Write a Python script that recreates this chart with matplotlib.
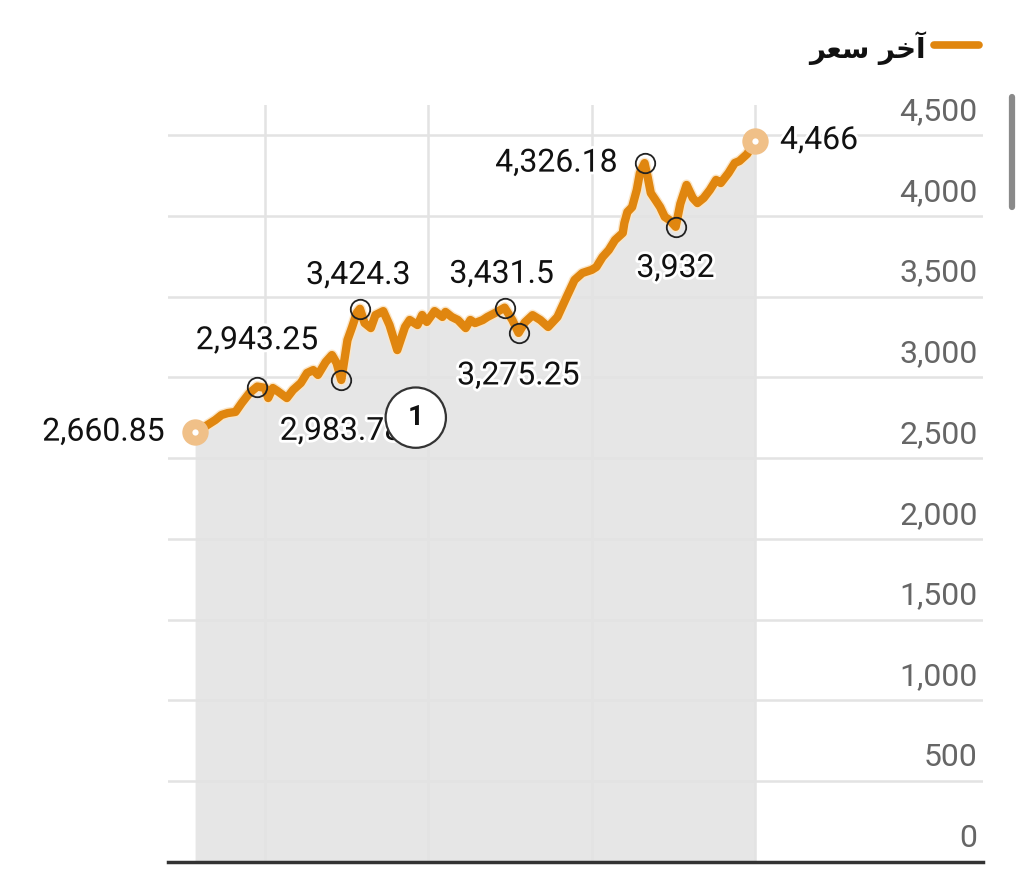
import numpy as np
import matplotlib.pyplot as plt
import matplotlib.patheffects as pe
from matplotlib.lines import Line2D

# days since start of series and closing price
days = [0, 6, 13, 17, 21, 26, 30, 35, 40, 45, 47, 50, 53, 59, 63, 68, 72, 76, 79, 84,
        88, 91, 94, 96, 98, 101, 104, 106, 109, 113, 116, 121, 125, 130, 135, 138, 143,
        146, 149, 154, 159, 161, 165, 169, 174, 177, 180, 185, 188, 193, 199, 204, 208,
        212, 217, 222, 227, 233, 238, 244, 249, 255, 258, 262, 266, 270, 275, 276, 278,
        281, 284, 286, 289, 291, 293, 296, 299, 302, 305, 309, 312, 316, 320, 323, 327,
        331, 335, 338, 343, 347, 350, 355, 360]
price = [2660.85, 2693, 2736, 2767, 2779, 2786, 2841, 2903, 2943.25, 2935, 2872, 2934,
         2915, 2872, 2922, 2965, 3027, 3045, 3015, 3095, 3138, 3089, 2983.78, 3107, 3231,
         3312, 3400, 3424.3, 3336, 3305, 3386, 3410, 3324, 3169, 3312, 3355, 3324, 3386,
         3343, 3410, 3374, 3405, 3374, 3355, 3305, 3355, 3336, 3355, 3374, 3399, 3431.5,
         3355, 3275.25, 3340, 3385, 3355, 3312, 3374, 3479, 3603, 3646, 3665, 3683, 3745,
         3788, 3850, 3894, 3955, 4024, 4054, 4160, 4265, 4326.18, 4240, 4141, 4098, 4054,
         3993, 3974, 3932, 4074, 4191, 4110, 4079, 4110, 4160, 4222, 4203, 4265, 4327,
         4339, 4383, 4466]

# marked points (day, value, label)
mark_days = [40, 94, 106, 199, 208, 289, 309]
mark_vals = [2943.25, 2983.78, 3424.3, 3431.5, 3275.25, 4326.18, 3932]
mark_labels = ["2,943.25", "2,983.78", "3,424.3", "3,431.5", "3,275.25", "4,326.18", "3,932"]

yticks = [0, 500, 1000, 1500, 2000, 2500, 3000, 3500, 4000, 4500]
ytick_labels = ["0", "500", "1,000", "1,500", "2,000", "2,500", "3,000", "3,500", "4,000", "4,500"]
xgrid_days = [45, 150, 255, 360]

legend_label = "آخر سعر"

# minimal Arabic shaping (matplotlib has no bidi/shaping)
FORMS = {
    'آ': ('\uFE81', '\uFE82', None, None),
    'خ': ('\uFEA5', '\uFEA6', '\uFEA7', '\uFEA8'),
    'ر': ('\uFEAD', '\uFEAE', None, None),
    'س': ('\uFEB1', '\uFEB2', '\uFEB3', '\uFEB4'),
    'ع': ('\uFEC9', '\uFECA', '\uFECB', '\uFECC'),
}


def shape(txt):
    out = []
    for i, ch in enumerate(txt):
        if ch not in FORMS:
            out.append(ch)
            continue
        prev = txt[i - 1] if i > 0 else ''
        nxt = txt[i + 1] if i + 1 < len(txt) else ''
        join_prev = prev in FORMS and FORMS[prev][2] is not None
        join_next = nxt in FORMS and FORMS[ch][2] is not None
        iso, fin, ini, med = FORMS[ch]
        if join_prev and join_next:
            out.append(med)
        elif join_prev:
            out.append(fin)
        elif join_next:
            out.append(ini)
        else:
            out.append(iso)
    return ''.join(reversed(out))


plt.rcParams['font.family'] = ['Roboto', 'DejaVu Sans']

ORANGE = '#e0860f'
fig = plt.figure(figsize=(10.24, 8.73), dpi=100)
ax = fig.add_axes([168 / 1024, 11 / 873, 815 / 1024, 757 / 873])

ax.fill_between(days, price, 0, color='#e6e6e6', linewidth=0, zorder=1)
ax.plot(days, price, color=ORANGE, lw=6, solid_joinstyle='round', solid_capstyle='round', zorder=3,
        path_effects=[pe.Stroke(linewidth=8, foreground='#fbe6c8'), pe.Normal()])

# end points
ax.plot([days[0], days[-1]], [price[0], price[-1]], 'o', ms=19, color='#f0c088', mec='none', zorder=4)
ax.plot([days[0], days[-1]], [price[0], price[-1]], 'o', ms=4.5, color='white', mec='none', zorder=5)

halo = [pe.withStroke(linewidth=4, foreground='white')]
ax.annotate("2,660.85", (days[0], price[0]), xytext=(-21.6, 0), textcoords='offset points',
            ha='right', va='center', fontsize=23, color='#111', zorder=6, path_effects=halo)
ax.annotate("4,466", (days[-1], price[-1]), xytext=(18, 0), textcoords='offset points',
            ha='left', va='center', fontsize=23, color='#111', zorder=6, path_effects=halo)

ax.plot(mark_days, mark_vals, 'o', ms=14, mfc='none', mec='#222', mew=1.3, zorder=5)
offsets = [(0, 33), (0, -37), (-1, 24), (-2, 24), (0, -31), (-19, 0), (0, -30)]
for d, v, lab, off in zip(mark_days, mark_vals, mark_labels, offsets):
    ha = 'right' if off[1] == 0 else 'center'
    ax.annotate(lab, (d, v), xytext=off, textcoords='offset points', ha=ha, va='center',
                fontsize=23, color='#111', zorder=6, path_effects=halo)

# numbered badge
ax.text(0.304, 0.587, "1", transform=ax.transAxes, ha='center', va='center', fontsize=20,
        fontweight='bold', color='#111', zorder=7,
        bbox=dict(boxstyle='circle,pad=0.6', fc='white', ec='#333', lw=1.6))

ax.set_xlim(-17.4, 506.6)
ax.set_ylim(0, 4686)
ax.set_yticks(yticks)
ax.set_xticks(xgrid_days)
ax.tick_params(length=0, labelleft=False, labelbottom=False)
ax.set_axisbelow('line')
ax.grid(True, color='#e3e3e3', lw=1.8)
for s in ['top', 'left', 'right']:
    ax.spines[s].set_visible(False)
ax.spines['bottom'].set_color('#333')
ax.spines['bottom'].set_linewidth(2.5)

for v, lab in zip(yticks, ytick_labels):
    ax.annotate(lab, (0.9935, v), xycoords=('axes fraction', 'data'), xytext=(0, 17),
                textcoords='offset points', ha='right', va='center', fontsize=23, color='#666')

# legend
fig.add_artist(Line2D([934 / 1024, 979 / 1024], [1 - 45 / 873, 1 - 45 / 873], color=ORANGE,
                      lw=5.5, solid_capstyle='round'))
fig.text(926 / 1024, 1 - 48 / 873, shape(legend_label), ha='right', va='center', fontsize=20,
         fontweight='bold', color='#111', family=['DejaVu Sans'])

# scrollbar
fig.add_artist(Line2D([1012 / 1024, 1012 / 1024], [1 - 97 / 873, 1 - 207 / 873], color='#8a8a8a',
                      lw=4.5, solid_capstyle='round'))

fig.savefig('out.png', dpi=100)
